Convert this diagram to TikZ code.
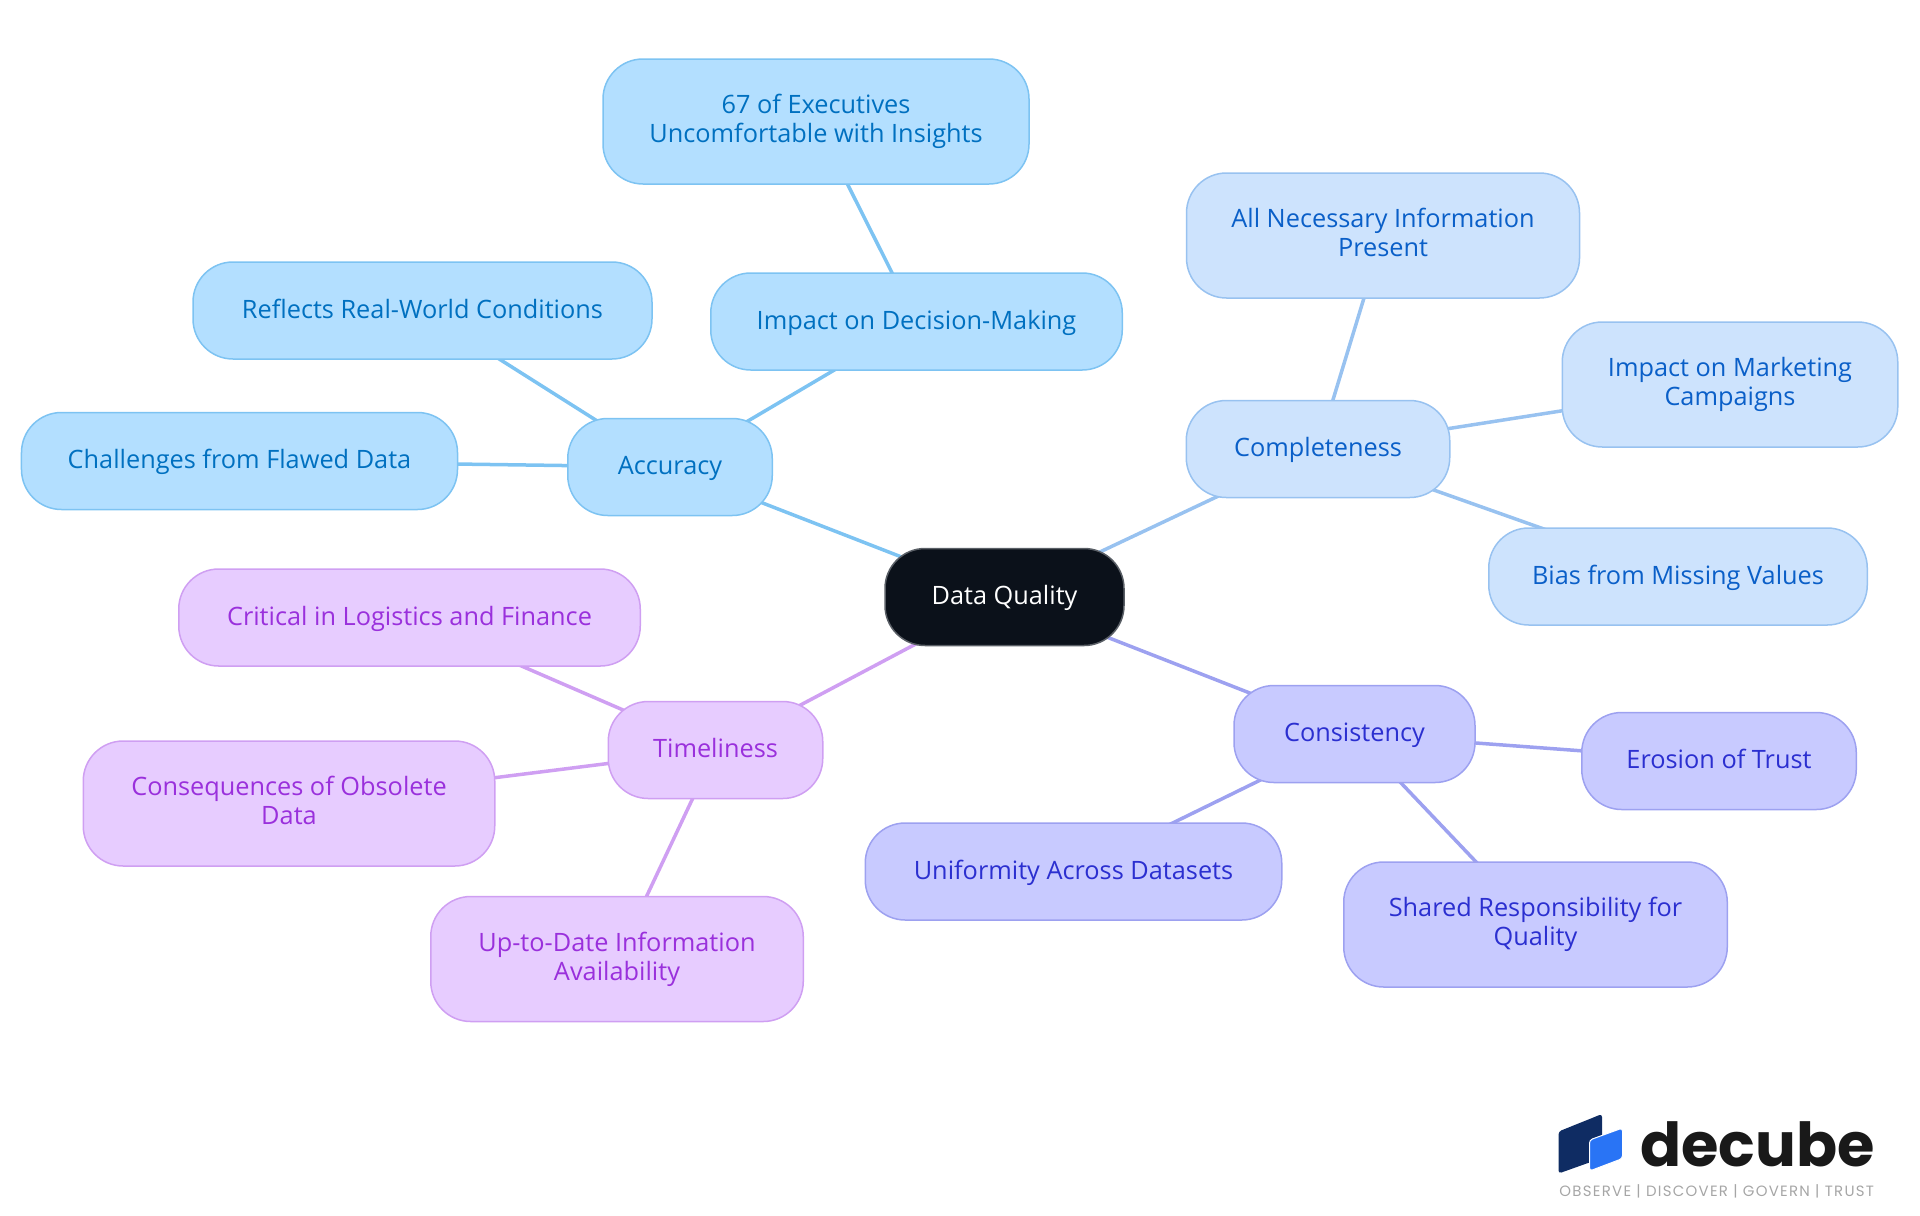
\documentclass[tikz,border=0pt]{standalone}
\usepackage{fontspec}
\setmainfont{Open Sans}
\newfontfamily\logofont{Poppins}
\newfontfamily\mottofont[LetterSpace=8.5]{Poppins}
\usetikzlibrary{positioning,backgrounds}

\definecolor{rootfill}{HTML}{0B111A}
\definecolor{rootline}{HTML}{5A5F66}
\definecolor{accfill}{HTML}{B3DFFF}
\definecolor{accline}{HTML}{7DC3F2}
\definecolor{acctext}{HTML}{0070C0}
\definecolor{compfill}{HTML}{CDE3FD}
\definecolor{compline}{HTML}{98C2F0}
\definecolor{comptext}{HTML}{0A5FC8}
\definecolor{consfill}{HTML}{C8CAFF}
\definecolor{consline}{HTML}{9DA1F0}
\definecolor{constext}{HTML}{2B2FD0}
\definecolor{timefill}{HTML}{E7CCFF}
\definecolor{timeline}{HTML}{CF9FF2}
\definecolor{timetext}{HTML}{9A30DC}
\definecolor{logodark}{HTML}{0F2C63}
\definecolor{logolight}{HTML}{2974F5}

\begin{document}
\begin{tikzpicture}[on grid,
idea/.style ={rounded corners =0.8cm, draw, line width =0.03cm, align =center,
  inner sep =0pt, minimum height =1.94cm, text height =0.46cm, text depth =0.144cm,
  font =\fontsize{14.4}{16.5}\selectfont},
tall/.style ={minimum height =2.5cm, text height =, text depth =,
  execute at begin node =\vphantom{A}, execute at end node =\vphantom{g}},
accnode/.style ={idea, fill =accfill, draw =accline, text =acctext},
compnode/.style ={idea, fill =compfill, draw =compline, text =comptext},
consnode/.style ={idea, fill =consfill, draw =consline, text =constext},
timenode/.style ={idea, fill =timefill, draw =timeline, text =timetext},
link/.style ={line width =0.07cm}]
\useasboundingbox (0,0) rectangle (38.4,-24.3);

\node[idea, fill=rootfill, draw=rootline, text=white, minimum width =4.78cm] (root) at (20.09,-11.94) {Data Quality};

% accuracy branch
\node[accnode, minimum width =4.09cm] (acc) [above left = 2.60cm and 6.69cm of root] {Accuracy};
\node[accnode, minimum width =8.72cm] (flawed) [above left = 0.12cm and 8.61cm of acc] {Challenges from Flawed Data};
\node[accnode, minimum width =9.18cm] (real) [above left = 3.13cm and 4.95cm of acc] {Reflects Real-World Conditions};
\node[accnode, minimum width =8.23cm] (decision) [above right = 2.91cm and 4.93cm of acc] {Impact on Decision-Making};
\node[accnode, tall, minimum width =8.52cm] (exec) [above left = 4.00cm and 2.01cm of decision] {67 of Executives\\Uncomfortable with Insights};

% completeness branch
\node[compnode, minimum width =5.27cm] (comp) [above right = 2.96cm and 6.27cm of root] {Completeness};
\node[compnode, tall, minimum width =7.86cm] (info) [above right = 4.27cm and 1.30cm of comp] {All Necessary Information\\Present};
\node[compnode, tall, minimum width =6.71cm] (market) [above right = 1.29cm and 8.24cm of comp] {Impact on Marketing\\Campaigns};
\node[compnode, minimum width =7.57cm] (bias) [below right = 2.55cm and 7.20cm of comp] {Bias from Missing Values};

% consistency branch
\node[consnode, minimum width =4.82cm] (cons) [below right = 2.74cm and 7.00cm of root] {Consistency};
\node[consnode, minimum width =5.49cm] (trust) [below right = 0.54cm and 7.29cm of cons] {Erosion of Trust};
\node[consnode, tall, minimum width =7.67cm] (shared) [below right = 3.81cm and 3.62cm of cons] {Shared Responsibility for\\Quality};
\node[consnode, minimum width =8.33cm] (uniform) [below left = 2.75cm and 5.62cm of cons] {Uniformity Across Datasets};

% timeliness branch
\node[timenode, minimum width =4.29cm] (time) [below left = 3.06cm and 5.78cm of root] {Timeliness};
\node[timenode, minimum width =9.23cm] (logistics) [above left = 2.65cm and 6.12cm of time] {Critical in Logistics and Finance};
\node[timenode, tall, minimum width =8.23cm] (obsolete) [below left = 1.07cm and 8.53cm of time] {Consequences of Obsolete\\Data};
\node[timenode, tall, minimum width =7.45cm] (uptodate) [below left = 4.18cm and 1.97cm of time] {Up-to-Date Information\\Availability};

\begin{scope}[on background layer]
\draw[link, accline] (root.center) -- (acc.center);
\draw[link, accline] (acc.center) -- (flawed.center);
\draw[link, accline] (acc.center) -- (real.center);
\draw[link, accline] (acc.center) -- (decision.center);
\draw[link, accline] (decision.center) -- (exec.center);
\draw[link, compline] (root.center) -- (comp.center);
\draw[link, compline] (comp.center) -- (info.center);
\draw[link, compline] (comp.center) -- (market.center);
\draw[link, compline] (comp.center) -- (bias.center);
\draw[link, consline] (root.center) -- (cons.center);
\draw[link, consline] (cons.center) -- (trust.center);
\draw[link, consline] (cons.center) -- (shared.center);
\draw[link, consline] (cons.center) -- (uniform.center);
\draw[link, timeline] (root.center) -- (time.center);
\draw[link, timeline] (time.center) -- (logistics.center);
\draw[link, timeline] (time.center) -- (obsolete.center);
\draw[link, timeline] (time.center) -- (uptodate.center);
\end{scope}

% logo
\fill[logodark, rounded corners =0.06cm] (31.17,-22.63) -- (32.04,-22.28) -- (32.04,-23.16) -- (31.17,-23.47) -- cycle;
\filldraw[logolight, draw =white, line width =0.02cm, rounded corners =0.06cm] (31.79,-22.8) -- (32.45,-22.56) -- (32.45,-23.17) -- (31.79,-23.42) -- cycle;
\node[anchor =base west, inner sep =0pt, font =\logofont\fontsize{34.5}{34.5}\selectfont\bfseries, text =black!90] (brand) at (32.8,-23.32) {decube};
\node[anchor =base west, inner sep =0pt, font =\mottofont\fontsize{8.5}{10}\selectfont, text =gray!70] (motto) at (31.18,-23.93) {OBSERVE | DISCOVER | GOVERN | TRUST};
\end{tikzpicture}
\end{document}
